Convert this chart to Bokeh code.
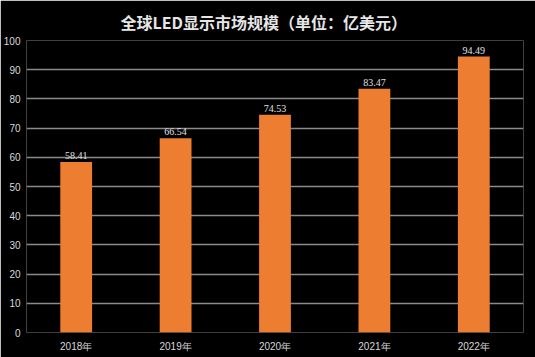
from bokeh.plotting import figure
from bokeh.models import ColumnDataSource, FactorRange, Range1d, LabelSet, FixedTicker, Title
from bokeh.embed import file_html
from bokeh.resources import INLINE

years = ["2018年", "2019年", "2020年", "2021年", "2022年"]
values = [58.41, 66.54, 74.53, 83.47, 94.49]
labels = ["58.41", "66.54", "74.53", "83.47", "94.49"]
y_ticks = [0, 10, 20, 30, 40, 50, 60, 70, 80, 90, 100]

src = ColumnDataSource(dict(x=years, y=values, t=labels))

p = figure(width=535, height=357, x_range=FactorRange(*years, range_padding=0),
           y_range=Range1d(0, 100), output_backend="svg", toolbar_location=None,
           background_fill_color="black", border_fill_color="black",
           min_border_left=0, min_border_right=12, min_border_bottom=25, min_border_top=10)
p.outline_line_color = None
p.title = Title(text="全球LED显示市场规模（单位：亿美元）", align="left",
                text_color="#e6e6e6", text_font_size="16px", text_font_style="bold",
                text_font="Noto Sans CJK SC", offset=94, standoff=14)

p.vbar(x="x", top="y", width=0.32, source=src, fill_color="#ED7D31", line_color=None)
p.add_layout(LabelSet(x="x", y="y", text="t", source=src, text_align="center",
                      y_offset=3, text_color="#e0e0e0", text_font_size="10px",
                      text_font="Liberation Sans"))

p.yaxis.ticker = FixedTicker(ticks=y_ticks)
p.ygrid.ticker = FixedTicker(ticks=y_ticks)
p.xgrid.grid_line_color = None
p.ygrid.grid_line_color = "#8a8a8a"
p.ygrid.grid_line_width = 1.5
for ax in (p.xaxis, p.yaxis):
    ax.axis_line_color = None
    ax.major_tick_line_color = None
    ax.minor_tick_line_color = None
    ax.major_tick_out = 0
    ax.major_tick_in = 0
    ax.major_label_text_color = "#d9d9d9"
    ax.major_label_text_font_size = "10px"
    ax.major_label_text_font = "Liberation Sans"
p.yaxis.major_label_standoff = 6
p.xaxis.major_label_standoff = 8

open("out.html", "w").write(file_html(p, INLINE))
